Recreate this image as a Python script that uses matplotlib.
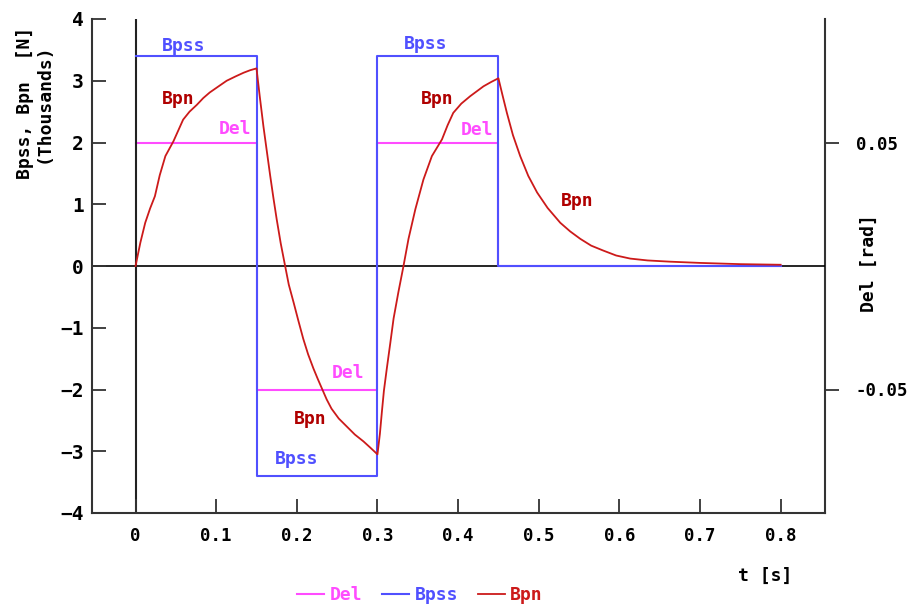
import numpy as np
import matplotlib.pyplot as plt

plt.rcParams['font.family'] = ['DejaVu Sans Mono']
plt.rcParams['font.weight'] = 'bold'

# Bpn (thousands of N)
t_bpn = [0.0, 0.006, 0.012, 0.018, 0.024, 0.030, 0.037, 0.047, 0.059, 0.067, 0.076, 0.084, 0.092,
         0.103, 0.113, 0.124, 0.134, 0.142, 0.150,
         0.154, 0.1586, 0.163, 0.167, 0.171, 0.175, 0.180, 0.1855, 0.190, 0.196, 0.202, 0.208,
         0.214, 0.2206, 0.226, 0.231, 0.237, 0.243, 0.252, 0.262, 0.272, 0.2826, 0.291, 0.300,
         0.303, 0.3055, 0.308, 0.3116, 0.316, 0.320, 0.326, 0.332, 0.3385, 0.347, 0.357, 0.3675,
         0.380, 0.387, 0.394, 0.404, 0.415, 0.4315, 0.441, 0.450,
         0.455, 0.4605, 0.468, 0.477, 0.487, 0.498, 0.511, 0.5267, 0.539, 0.5515, 0.565, 0.580,
         0.596, 0.6135, 0.635, 0.663, 0.700, 0.750, 0.800]
bpn = [0.0, 0.38, 0.70, 0.93, 1.13, 1.47, 1.78, 2.02, 2.37, 2.50, 2.61, 2.72, 2.81,
       2.91, 3.00, 3.07, 3.13, 3.17, 3.20,
       2.75, 2.26, 1.84, 1.46, 1.10, 0.76, 0.37, 0.0, -0.30, -0.59, -0.89, -1.18,
       -1.43, -1.66, -1.83, -1.98, -2.16, -2.31, -2.47, -2.60, -2.73, -2.84, -2.94, -3.05,
       -2.72, -2.36, -2.02, -1.66, -1.24, -0.85, -0.42, -0.02, 0.44, 0.92, 1.40, 1.78,
       2.05, 2.28, 2.48, 2.63, 2.75, 2.91, 2.98, 3.04,
       2.77, 2.48, 2.12, 1.78, 1.46, 1.19, 0.94, 0.70, 0.56, 0.44, 0.33, 0.25,
       0.17, 0.12, 0.09, 0.07, 0.05, 0.03, 0.02]

# Bpss (thousands of N) and Del (rad), step inputs
t_step = [0.0, 0.15, 0.30, 0.45, 0.80]
bpss = [3.4, -3.4, 3.4, 0.0, 0.0]
dell = [0.05, -0.05, 0.05, 0.0, 0.0]

c_del = '#ff4cff'
c_bpss = '#5050ff'
c_bpn = '#cc1a1a'
c_lab = '#b00000'
fs = 13

fig = plt.figure(figsize=(9.13, 6.05), dpi=100)
ax = fig.add_axes([92/913, 1-513/605, (825-92)/913, (513-19)/605])
ax2 = ax.twinx()
ax.set_zorder(ax2.get_zorder() + 1)
ax.patch.set_visible(False)

ax.axhline(0, color='black', lw=1.2, zorder=1)
ax.axvline(0, color='#222222', lw=1.5, zorder=1)

l_del, = ax2.plot(t_step, dell, drawstyle='steps-post', color=c_del, lw=1.5, label='Del')
l_bpss, = ax.plot(t_step, bpss, drawstyle='steps-post', color=c_bpss, lw=1.5, label='Bpss', zorder=2)
l_bpn, = ax.plot(t_bpn, bpn, color=c_bpn, lw=1.3, label='Bpn', zorder=3)

ax.set_xlim(-0.054, 0.855)
ax.set_ylim(-4, 4)
ax2.set_ylim(-0.1, 0.1)

ax.set_xticks([0, 0.1, 0.2, 0.3, 0.4, 0.5, 0.6, 0.7, 0.8])
ax.set_xticklabels(['0', '0.1', '0.2', '0.3', '0.4', '0.5', '0.6', '0.7', '0.8'])
ax.set_yticks(range(-4, 5))
ax.set_yticklabels(['−4', '−3', '−2', '−1', '0', '1', '2', '3', '4'])
ax2.set_yticks([-0.05, 0.05])
ax2.set_yticklabels(['-0.05', '0.05'])

ax.tick_params(axis='x', direction='in', length=10, width=1.3, pad=10, labelsize=12.5, color='#333333')
ax.tick_params(axis='y', direction='in', length=10, width=1.3, pad=6, labelsize=14, color='#333333')
ax2.tick_params(axis='y', direction='out', length=10, width=1.3, pad=12, labelsize=12.5, color='#333333')

for a in (ax, ax2):
    a.spines['top'].set_visible(False)
    for s in ('left', 'right', 'bottom'):
        a.spines[s].set_color('#333333')
        a.spines[s].set_linewidth(1.5)
ax.spines['right'].set_visible(False)
ax2.spines['left'].set_visible(False)
ax2.spines['bottom'].set_visible(False)

# in-plot curve labels
ax.text(0.06, 3.57, 'Bpss', color=c_bpss, fontsize=fs, ha='center', va='center')
ax.text(0.36, 3.59, 'Bpss', color=c_bpss, fontsize=fs, ha='center', va='center')
ax.text(0.2, -3.13, 'Bpss', color=c_bpss, fontsize=fs, ha='center', va='center')
ax.text(0.053, 2.7, 'Bpn', color=c_lab, fontsize=fs, ha='center', va='center')
ax.text(0.374, 2.7, 'Bpn', color=c_lab, fontsize=fs, ha='center', va='center')
ax.text(0.548, 1.05, 'Bpn', color=c_lab, fontsize=fs, ha='center', va='center')
ax.text(0.217, -2.48, 'Bpn', color=c_lab, fontsize=fs, ha='center', va='center')
ax.text(0.124, 2.22, 'Del', color=c_del, fontsize=fs, ha='center', va='center')
ax.text(0.424, 2.2, 'Del', color=c_del, fontsize=fs, ha='center', va='center')
ax.text(0.264, -1.74, 'Del', color=c_del, fontsize=fs, ha='center', va='center')

fig.text(25/913, 1-103/605, 'Bpss, Bpn  [N]', rotation=90, fontsize=fs, ha='center', va='center')
fig.text(44/913, 1-103/605, '(Thousands)', rotation=90, fontsize=fs, ha='center', va='center')
fig.text(869/913, 1-263/605, 'Del [rad]', rotation=90, fontsize=fs, ha='center', va='center')
fig.text(765/913, 1-576/605, 't [s]', fontsize=fs, ha='center', va='center')

fig.legend(handles=[l_del, l_bpss, l_bpn], loc='center', bbox_to_anchor=(420/913, 1-595/605),
           ncol=3, frameon=False, fontsize=fs, labelcolor='linecolor', handlelength=1.5,
           handletextpad=0.3, columnspacing=1.1)

fig.savefig('out.png', dpi=100)
